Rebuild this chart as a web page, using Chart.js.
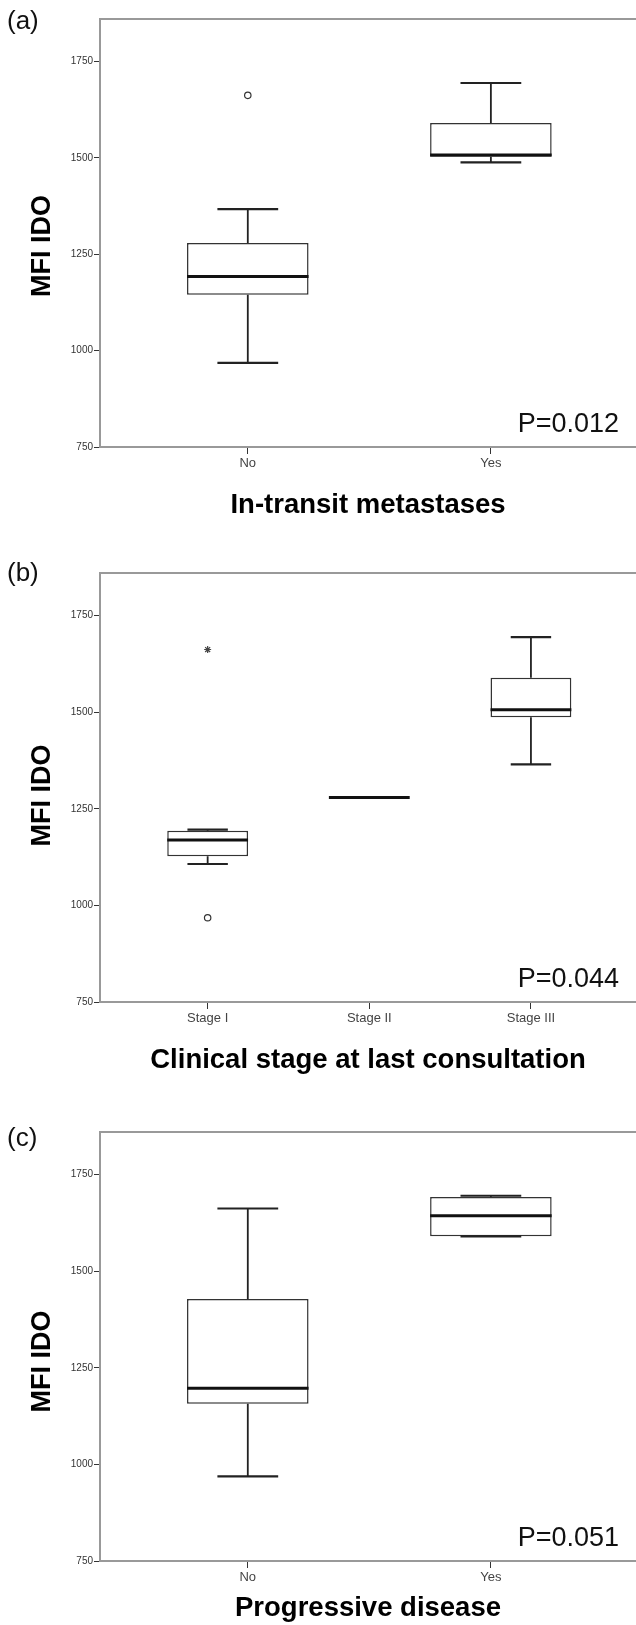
<!DOCTYPE html>
<html>
<head>
<meta charset="utf-8">
<script src="https://cdn.jsdelivr.net/npm/chart.js@4.4.1/dist/chart.umd.min.js"></script>
<style>
  html, body { margin: 0; padding: 0; background: #fff; }
  #wrap { position: relative; width: 636px; height: 1625px; overflow: hidden; }
  canvas { position: absolute; left: 0; }
</style>
</head>
<body>
<div id="wrap">
  <canvas id="chartA" width="636" height="540" style="top:0px"></canvas>
  <canvas id="chartB" width="636" height="540" style="top:540px"></canvas>
  <canvas id="chartC" width="636" height="545" style="top:1080px"></canvas>
</div>
<script>
const yTicks = [750, 1000, 1250, 1500, 1750];

// (a) In-transit metastases
const aLabels = ["No", "Yes"];
const aLow = [968, 1488];
const aQ1 = [1145, 1503];
const aMedian = [1192, 1507];
const aQ3 = [1279, 1590];
const aHigh = [1367, 1694];
const aCircleCat = [1];
const aCircleVal = [1662];
const aStarCat = [];
const aStarVal = [];

// (b) Clinical stage at last consultation
const bLabels = ["Stage I", "Stage II", "Stage III"];
const bLow = [1107, 1279, 1365];
const bQ1 = [1127, 1279, 1487];
const bMedian = [1169, 1279, 1506];
const bQ3 = [1193, 1279, 1589];
const bHigh = [1196, 1279, 1694];
const bCircleCat = [1];
const bCircleVal = [968];
const bStarCat = [1];
const bStarVal = [1662];

// (c) Progressive disease
const cLabels = ["No", "Yes"];
const cLow = [969, 1590];
const cQ1 = [1157, 1590];
const cMedian = [1197, 1643];
const cQ3 = [1428, 1692];
const cHigh = [1662, 1695];
const cCircleCat = [];
const cCircleVal = [];
const cStarCat = [];
const cStarVal = [];

Chart.defaults.font.family = "'Liberation Sans', Arial, sans-serif";
Chart.defaults.color = "#333";

// whiskers, caps and median line, placed with the chart's own scales
const boxPlugin = {
  id: "boxWhiskers",
  afterDatasetsDraw(chart, args, opts) {
    const { ctx } = chart;
    const x = chart.scales.x;
    const y = chart.scales.y;
    ctx.save();
    opts.median.forEach((m, i) => {
      const c = i + 1;
      const cx = x.getPixelForValue(c);
      const capL = x.getPixelForValue(c - 0.125);
      const capR = x.getPixelForValue(c + 0.125);
      const boxL = x.getPixelForValue(c - 0.25);
      const boxR = x.getPixelForValue(c + 0.25);
      const yLow = y.getPixelForValue(opts.low[i]);
      const yHigh = y.getPixelForValue(opts.high[i]);

      ctx.strokeStyle = "#222";
      ctx.lineWidth = 1.8;
      ctx.beginPath();
      if (opts.high[i] > opts.q3[i]) {
        ctx.moveTo(cx, y.getPixelForValue(opts.q3[i]));
        ctx.lineTo(cx, yHigh);
      }
      if (opts.low[i] < opts.q1[i]) {
        ctx.moveTo(cx, y.getPixelForValue(opts.q1[i]));
        ctx.lineTo(cx, yLow);
      }
      ctx.stroke();

      ctx.lineWidth = 2.2;
      ctx.beginPath();
      ctx.moveTo(capL, yHigh);
      ctx.lineTo(capR, yHigh);
      ctx.moveTo(capL, yLow);
      ctx.lineTo(capR, yLow);
      ctx.stroke();

      ctx.strokeStyle = "#111";
      ctx.lineWidth = 3;
      ctx.beginPath();
      ctx.moveTo(boxL, y.getPixelForValue(m));
      ctx.lineTo(boxR, y.getPixelForValue(m));
      ctx.stroke();
    });
    ctx.restore();
  },
};

// top frame line, panel letter, y title and p value
const panelText = {
  id: "panelText",
  afterDraw(chart, args, opts) {
    const { ctx, chartArea } = chart;
    ctx.save();
    ctx.strokeStyle = "#999";
    ctx.lineWidth = 2;
    ctx.beginPath();
    ctx.moveTo(chartArea.left, chartArea.top);
    ctx.lineTo(chartArea.right, chartArea.top);
    ctx.stroke();

    ctx.fillStyle = "#111";
    ctx.font = "26px 'Liberation Sans', Arial, sans-serif";
    ctx.textAlign = "left";
    ctx.textBaseline = "middle";
    ctx.fillText(opts.letter, 7, chartArea.top + opts.letterDy);

    // y title, sits a little below the middle of the plot
    ctx.save();
    ctx.translate(43, (chartArea.top + chartArea.bottom) / 2 + opts.yTitleDy);
    ctx.rotate(-Math.PI / 2);
    ctx.fillStyle = "#000";
    ctx.font = "bold 27px 'Liberation Sans', Arial, sans-serif";
    ctx.textAlign = "center";
    ctx.textBaseline = "middle";
    ctx.fillText("MFI IDO", 0, 0);
    ctx.restore();

    ctx.font = "27px 'Liberation Sans', Arial, sans-serif";
    ctx.textAlign = "right";
    ctx.textBaseline = "alphabetic";
    ctx.fillText(opts.pValue, chartArea.right - 17, chartArea.bottom - 15);
    ctx.restore();
  },
};

function makeChart(id, p) {
  const ctx = document.getElementById(id).getContext("2d");
  return new Chart(ctx, {
    type: "bar",
    data: {
      datasets: [
        {
          label: "box",
          data: p.labels.map((_, i) => ({ x: i + 1, y: [p.q1[i], p.q3[i]] })),
          backgroundColor: "#fff",
          borderColor: "#333",
          borderWidth: 1.5,
          borderSkipped: false,
          barPercentage: 0.5,
          categoryPercentage: 1,
        },
        {
          type: "scatter",
          label: "outlier",
          data: p.circleCat.map((c, i) => ({ x: c, y: p.circleVal[i] })),
          pointStyle: "circle",
          radius: 3.2,
          borderWidth: 1.2,
          borderColor: "#333",
          backgroundColor: "#fff",
        },
        {
          type: "scatter",
          label: "extreme",
          data: p.starCat.map((c, i) => ({ x: c, y: p.starVal[i] })),
          pointStyle: "star",
          radius: 3.5,
          borderWidth: 1.2,
          borderColor: "#444",
          backgroundColor: "#444",
        },
      ],
    },
    options: {
      responsive: false,
      animation: false,
      layout: { autoPadding: false, padding: { top: p.padTop, left: 0, right: 0, bottom: 0 } },
      plugins: {
        legend: { display: false },
        tooltip: { enabled: false },
        boxWhiskers: { low: p.low, q1: p.q1, median: p.median, q3: p.q3, high: p.high },
        panelText: { letter: p.letter, letterDy: p.letterDy, yTitleDy: p.yTitleDy, pValue: p.pValue },
      },
      scales: {
        x: {
          type: "linear",
          min: p.xMin,
          max: p.xMax,
          offset: false,
          afterBuildTicks: (s) => {
            s.ticks = p.labels.map((_, i) => ({ value: i + 1 }));
          },
          afterFit: (s) => {
            s.height = p.xHeight;
          },
          ticks: {
            autoSkip: false,
            maxRotation: 0,
            padding: 2,
            color: "#444",
            font: { size: 13 },
            callback: (v) => p.labels[Math.round(v) - 1],
          },
          grid: {
            offset: false,
            drawOnChartArea: false,
            drawTicks: true,
            tickLength: 7,
            color: "#333",
            lineWidth: 1,
          },
          border: { color: "#999", width: 2 },
          title: {
            display: true,
            text: p.xTitle,
            color: "#000",
            font: { size: 27.5, weight: "bold" },
            padding: { top: 0, bottom: p.titlePad },
          },
        },
        y: {
          min: 750,
          max: 1860,
          afterBuildTicks: (s) => {
            s.ticks = yTicks.map((v) => ({ value: v }));
          },
          afterFit: (s) => {
            s.width = 100;
          },
          ticks: {
            autoSkip: false,
            padding: 1,
            color: "#333",
            font: { size: 10 },
            callback: (v) => String(v),
          },
          grid: {
            drawOnChartArea: false,
            drawTicks: true,
            tickLength: 6,
            color: "#333",
            lineWidth: 1,
          },
          border: { color: "#999", width: 2 },
        },
      },
    },
    plugins: [boxPlugin, panelText],
  });
}

makeChart("chartA", {
  labels: aLabels, low: aLow, q1: aQ1, median: aMedian, q3: aQ3, high: aHigh,
  circleCat: aCircleCat, circleVal: aCircleVal, starCat: aStarCat, starVal: aStarVal,
  xTitle: "In-transit metastases", letter: "(a)", pValue: "P=0.012",
  padTop: 19, xHeight: 93, titlePad: 18, letterDy: 3, yTitleDy: 13, xMin: 0.392, xMax: 2.597,
});

makeChart("chartB", {
  labels: bLabels, low: bLow, q1: bQ1, median: bMedian, q3: bQ3, high: bHigh,
  circleCat: bCircleCat, circleVal: bCircleVal, starCat: bStarCat, starVal: bStarVal,
  xTitle: "Clinical stage at last consultation", letter: "(b)", pValue: "P=0.044",
  padTop: 33, xHeight: 78, titlePad: 3, letterDy: 1, yTitleDy: 8, xMin: 0.334, xMax: 3.65,
});

makeChart("chartC", {
  labels: cLabels, low: cLow, q1: cQ1, median: cMedian, q3: cQ3, high: cHigh,
  circleCat: cCircleCat, circleVal: cCircleVal, starCat: cStarCat, starVal: cStarVal,
  xTitle: "Progressive disease", letter: "(c)", pValue: "P=0.051",
  padTop: 52, xHeight: 64, titlePad: 0, letterDy: 7, yTitleDy: 15, xMin: 0.392, xMax: 2.597,
});
</script>
</body>
</html>
